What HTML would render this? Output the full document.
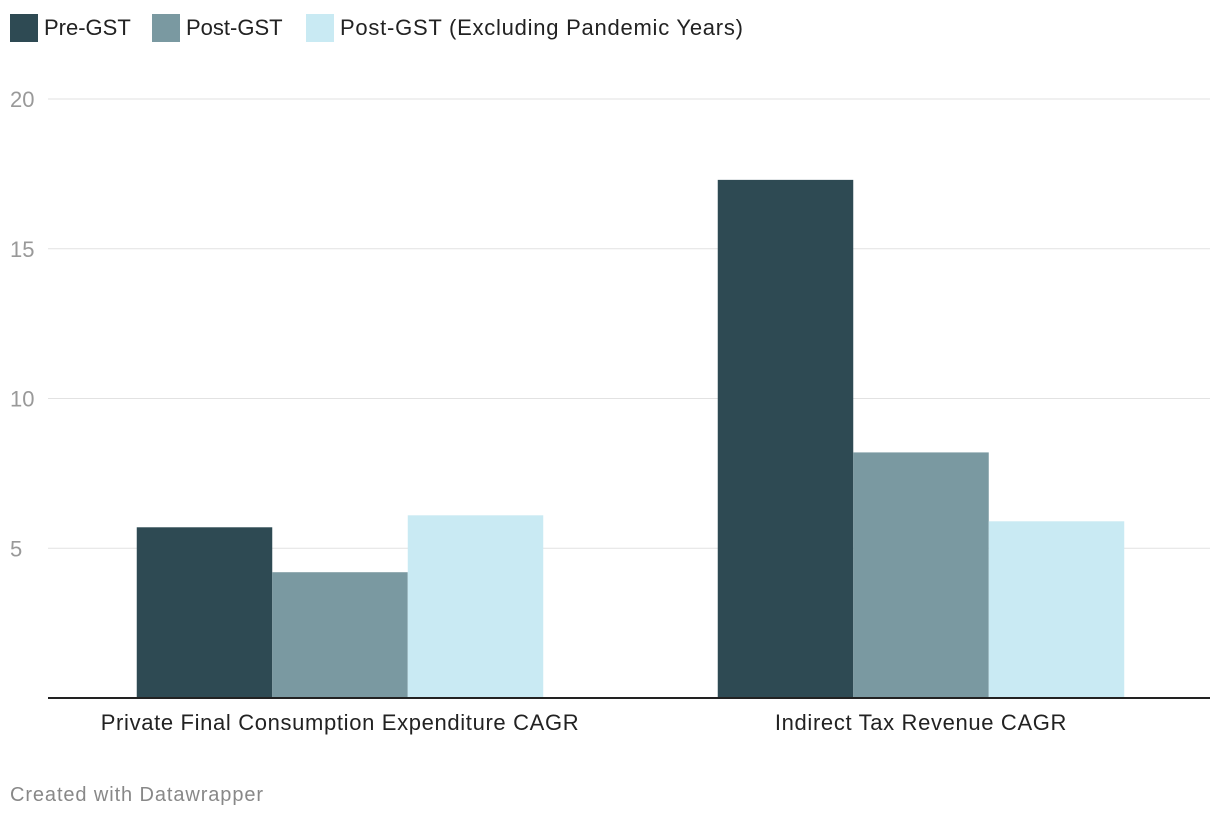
<!DOCTYPE html>
<html><head><meta charset="utf-8"><style>
body{margin:0;width:1220px;height:820px;background:#fff;font-family:"Liberation Sans",sans-serif;overflow:hidden}
.leg{position:absolute;top:13px;height:30px;display:flex;align-items:center;font-size:22px;color:#222}
.sw{width:28px;height:28px;margin-right:6px}
</style></head><body>
<div>
<div class="leg" style="left:10px"><div class="sw" style="background:#2e4a53"></div>Pre-GST</div>
<div class="leg" style="left:152px"><div class="sw" style="background:#7a99a1"></div>Post-GST</div>
<div class="leg" style="left:306px;letter-spacing:0.75px"><div class="sw" style="background:#c9eaf3"></div>Post-GST (Excluding Pandemic Years)</div>
</div>
<svg id="chart" width="1220" height="820" style="position:absolute;left:0;top:0"></svg>
<div style="position:absolute;left:10px;top:784px;font-size:20px;letter-spacing:0.9px;color:#888">Created with Datawrapper</div>
<script>
const categories=["Private Final Consumption Expenditure CAGR","Indirect Tax Revenue CAGR"];
const preGST=[5.7,17.3];
const postGST=[4.2,8.2];
const postGSTExcl=[6.1,5.9];
const yTicks=[5,10,15,20];
const series=[preGST,postGST,postGSTExcl];
const colors=["#2e4a53","#7a99a1","#c9eaf3"];
const names=["pre-gst","post-gst","post-gst-excl"];
const svg=document.getElementById('chart');
const NS="http://www.w3.org/2000/svg";
const x0=48,x1=1210,yBase=698,yTop=99,yMax=20;
const y=v=>yBase-(yBase-yTop)*v/yMax;
const band=(x1-x0)/categories.length, bw=135.5;
function mk(t,a){const e=document.createElementNS(NS,t);for(const k in a)e.setAttribute(k,a[k]);svg.appendChild(e);return e;}
yTicks.forEach(t=>{
 const l=mk('line',{x1:x0,x2:x1,y1:y(t),y2:y(t),stroke:'#e2e2e2','stroke-width':1});
 
 
 const tx=mk('text',{x:10,y:y(t)+8,'font-size':22,fill:'#999','font-family':'Liberation Sans'});
 tx.textContent=t;
 
 
});
categories.forEach((c,i)=>{
 const cx=x0+band*(i+0.5)+1.5;
 series.forEach((s,j)=>{
  const bx=cx-1.5*bw+j*bw;
  const r=mk('rect',{x:bx,y:y(s[i]),width:bw,height:yBase-y(s[i]),fill:colors[j]});
  
  
 });
 const tx=mk('text',{x:cx,y:730,'font-size':22,fill:'#222','text-anchor':'middle','font-family':'Liberation Sans','letter-spacing':'0.65px'});
 tx.textContent=c;
 
 
});
const ax=mk('line',{x1:x0,x2:x1,y1:yBase,y2:yBase,stroke:'#222','stroke-width':2});


</script>
</body></html>
